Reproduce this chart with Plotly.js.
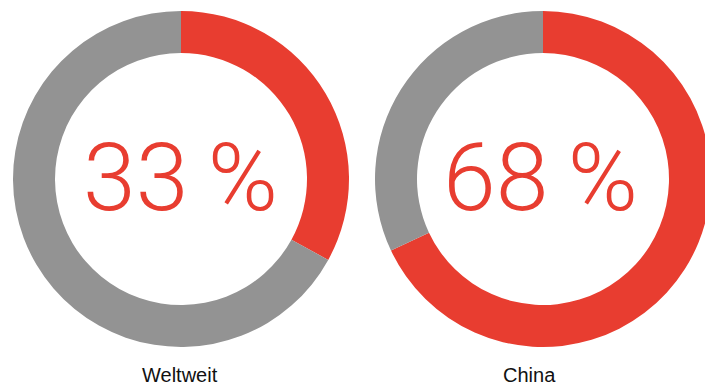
<!DOCTYPE html>
<html>
<head>
<meta charset="utf-8">
<script src="https://cdn.plot.ly/plotly-3.0.1.min.js"></script>
<style>
html,body{margin:0;padding:0;overflow:hidden;background:#fff;}
#chart{width:720px;height:385px;}
</style>
</head>
<body>
<div id="chart"></div>
<script>
const regions = ["Weltweit", "China"];
const shareYes = [33, 68];
const shareNo = [67, 32];
const sliceLabels = ["Anteil", "Rest"];
const centerTexts = ["33\u2009%", "68\u2009%"];

const RED = "#E83D30";
const GREY = "#939393";
const W = 720, H = 385;
const px = v => v / W;
const py = v => 1 - v / H;

const domains = [
  {x: [px(13), px(349)], y: [py(347), py(11)]},
  {x: [px(375), px(711)], y: [py(347), py(11)]}
];
const textX = [180, 540];
const labelX = [180, 529];

const data = regions.map((r, i) => ({
  type: "pie",
  name: r,
  labels: sliceLabels,
  values: [shareYes[i], shareNo[i]],
  sort: false,
  direction: "clockwise",
  rotation: 0,
  hole: 0.75,
  textinfo: "none",
  hoverinfo: "none",
  marker: {colors: [RED, GREY], line: {width: 0}},
  domain: domains[i]
}));

const annotations = [];
regions.forEach((r, i) => {
  annotations.push({
    xref: "paper", yref: "paper",
    x: px(textX[i]), y: py(177),
    xanchor: "center", yanchor: "middle",
    text: centerTexts[i], showarrow: false,
    font: {family: "Roboto, 'Liberation Sans', sans-serif", size: 95, color: RED, weight: 300}
  });
  annotations.push({
    xref: "paper", yref: "paper",
    x: px(labelX[i]), y: py(375),
    xanchor: "center", yanchor: "middle",
    text: r, showarrow: false,
    font: {family: "'Liberation Sans', Arial, sans-serif", size: 20, color: "#111111"}
  });
});

Plotly.newPlot("chart", data, {
  width: W, height: H,
  margin: {l: 0, r: 0, t: 0, b: 0},
  paper_bgcolor: "#ffffff",
  showlegend: false,
  annotations: annotations
}, {displayModeBar: false, staticPlot: true});
</script>
</body>
</html>
